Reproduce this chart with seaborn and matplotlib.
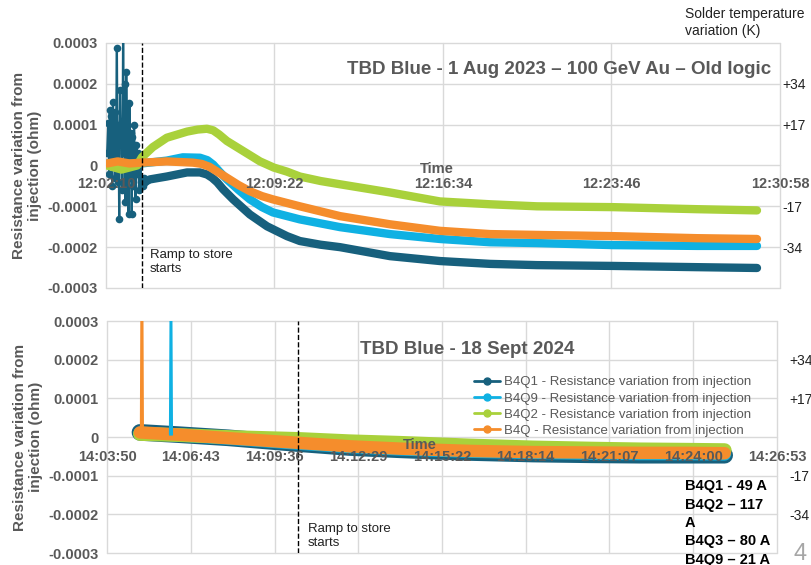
import numpy as np
import pandas as pd
import matplotlib
matplotlib.use("Agg")
import matplotlib.pyplot as plt
from matplotlib.lines import Line2D
import seaborn as sns

# ---- data (time in s from first tick, resistance in 1e-4 ohm) ----
top_xlabels = ["12:02:10", "12:09:22", "12:16:34", "12:23:46", "12:30:58"]
bot_xlabels = ["14:03:50", "14:06:43", "14:09:36", "14:12:29", "14:15:22",
               "14:18:14", "14:21:07", "14:24:00", "14:26:53"]
y_ticks = [-3, -2, -1, 0, 1, 2, 3]
temp_ticks = [34, 17, -17, -34]          # K, 17 K per 1e-4 ohm

names = ["B4Q1", "B4Q9", "B4Q2", "B4Q"]
colors = ["#17607d", "#0fb1e3", "#a9d13b", "#f58d2c"]

# 1 Aug 2023
top_q1_noise_t = [3, 6, 8, 10, 12, 14, 16, 18, 20, 22, 24, 26, 28, 30, 32, 34, 36, 38, 40,
                  42, 44, 46, 48, 50, 52, 54, 56, 58, 60, 62, 64, 66, 68, 70, 72, 74, 76,
                  78, 80, 82, 85, 88, 91, 94, 97, 100]
top_q1_noise_v = [0.3, 1.05, -0.2, 1.37, 0.1, 1.2, -0.5, 1.56, 0.2, 1.3, -0.3, 0.8, 2.88,
                  -0.4, 1.0, -1.32, 1.85, 0.6, 1.1, -0.6, 3.4, 0.3, 2.0, -0.9, 2.3, 0.4,
                  1.5, -1.2, 1.53, -0.3, 0.8, -1.2, 0.7, -0.5, 1.0, 0.1, -0.83, 0.5, -0.2,
                  0.3, -0.6, 0.1, -0.4, -0.5, -0.3, -0.4]
top_q1_t = [100, 113, 156, 208, 241, 259, 272, 285, 300, 326, 369, 413, 464, 497, 550,
            600, 728, 856, 985, 1105, 1300, 1515, 1669]
top_q1_v = [-0.4, -0.34, -0.27, -0.17, -0.17, -0.22, -0.3, -0.41, -0.58, -0.83, -1.2,
            -1.49, -1.73, -1.85, -1.94, -2.0, -2.22, -2.34, -2.41, -2.44, -2.46, -2.49,
            -2.51]
top_q9_t = [3, 60, 92, 156, 197, 241, 260, 275, 290, 310, 340, 369, 400, 428, 497, 600,
            728, 856, 985, 1105, 1300, 1515, 1669]
top_q9_v = [0.05, 0.05, 0.05, 0.12, 0.2, 0.19, 0.13, 0.02, -0.14, -0.34, -0.6, -0.83,
            -1.02, -1.15, -1.32, -1.51, -1.68, -1.8, -1.88, -1.9, -1.95, -1.97, -1.97]
top_q2_t = [3, 40, 80, 92, 120, 156, 208, 235, 259, 275, 290, 310, 344, 395, 430, 464,
            497, 550, 600, 728, 856, 985, 1105, 1300, 1515, 1669]
top_q2_v = [0.0, -0.1, 0.0, 0.2, 0.45, 0.68, 0.83, 0.88, 0.9, 0.86, 0.76, 0.6, 0.4, 0.1,
            -0.05, -0.15, -0.27, -0.38, -0.46, -0.66, -0.88, -0.95, -1.0, -1.02, -1.07,
            -1.1]
top_q_t = [3, 30, 60, 92, 156, 223, 245, 265, 285, 310, 340, 369, 400, 428, 497, 600,
           728, 856, 985, 1105, 1300, 1515, 1669]
top_q_v = [0.05, 0.1, 0.05, 0.07, 0.1, 0.07, 0.04, -0.03, -0.15, -0.3, -0.48, -0.63,
           -0.75, -0.83, -1.0, -1.24, -1.44, -1.6, -1.68, -1.7, -1.73, -1.78, -1.8]
top_ramp_t = 92

# 18 Sept 2024
bot_t = [68, 150, 250, 394, 500, 604, 750, 879, 1000, 1100, 1200, 1275]
bot_q1_v = [0.12, 0.06, -0.02, -0.17, -0.27, -0.33, -0.40, -0.44, -0.46, -0.47, -0.47, -0.47]
bot_q9_v = [0.10, 0.05, -0.03, -0.16, -0.25, -0.31, -0.37, -0.40, -0.42, -0.43, -0.43, -0.44]
bot_q2_v = [0.08, 0.05, 0.0, -0.05, -0.11, -0.15, -0.22, -0.27, -0.30, -0.32, -0.33, -0.34]
bot_q_v = [0.12, 0.06, -0.03, -0.15, -0.24, -0.30, -0.36, -0.39, -0.40, -0.41, -0.41, -0.42]
bot_q_spike_t = [70, 72, 74]
bot_q_spike_v = [0.1, 6.0, 0.1]
bot_q9_spike_t = [130, 132, 134]
bot_q9_spike_v = [0.06, 5.0, 0.06]
bot_ramp_t = 394

GRAY = "#595959"
S = 1e-4

sns.set_theme(style="white")
plt.rcParams["font.family"] = ["Liberation Sans", "DejaVu Sans"]


def secs(labels):
    td = pd.to_timedelta(labels)
    return (td - td[0]).total_seconds().to_numpy()


def line(ax, t, v, color, lw, **kw):
    sns.lineplot(x=np.asarray(t, float), y=np.asarray(v) * S, ax=ax, color=color,
                 linewidth=lw, estimator=None, sort=False, legend=False,
                 solid_capstyle="round", solid_joinstyle="round", **kw)


def style(ax, xlabels, time_xy, tick_pad, right_pad):
    xt = secs(xlabels)
    ax.set_xlim(xt[0], xt[-1])
    ax.set_ylim(-3 * S, 3 * S)
    ax.set_xticks(xt)
    ax.set_xticklabels(xlabels)
    ax.set_yticks(np.array(y_ticks) * S)
    ax.set_yticklabels(["0" if v == 0 else f"{v * S:.4f}" for v in y_ticks])
    # grid drawn by hand so the tick labels can stay above the data
    ax.grid(False)
    ax.set_axisbelow(False)
    for x in xt:
        ax.axvline(x, color="#d9d9d9", lw=1, zorder=0, clip_on=False)
    for y in y_ticks:
        ax.axhline(y * S, color="#d9d9d9", lw=1, zorder=0, clip_on=False)
    for sp in ax.spines.values():
        sp.set_visible(False)
    ax.spines["bottom"].set_position(("data", 0))
    ax.tick_params(axis="both", length=0, labelsize=10.5, labelcolor=GRAY)
    ax.tick_params(axis="x", pad=tick_pad)
    ax.tick_params(axis="y", pad=6)
    for lab in ax.get_xticklabels() + ax.get_yticklabels():
        lab.set_fontweight("bold")
    ax.set_xlabel("Time", fontsize=10.5, fontweight="bold", color=GRAY)
    ax.xaxis.set_label_coords(*time_xy)
    ax.set_ylabel("Resistance variation from\ninjection (ohm)", fontsize=11,
                  fontweight="bold", color=GRAY, labelpad=4)
    tw = ax.twinx()
    tw.set_ylim(ax.get_ylim())
    tw.set_yticks(np.array(temp_ticks) / 17 * S)
    tw.set_yticklabels([f"{k:+d}" for k in temp_ticks])
    tw.tick_params(axis="y", length=0, labelsize=10, labelcolor="#222222", pad=right_pad)
    for sp in tw.spines.values():
        sp.set_visible(False)
    tw.grid(False)


fig = plt.figure(figsize=(8.12, 5.65), dpi=100)
ax1 = fig.add_axes([0.1305, 0.4903, 0.8301, 0.4336])
ax2 = fig.add_axes([0.1318, 0.0212, 0.8251, 0.4106])

# top panel
line(ax1, top_q1_noise_t, top_q1_noise_v, colors[0], 1.6, marker="o", markersize=5.5,
     markeredgewidth=0)
line(ax1, top_q1_t, top_q1_v, colors[0], 6)
line(ax1, top_q9_t, top_q9_v, colors[1], 6)
line(ax1, top_q2_t, top_q2_v, colors[2], 6)
line(ax1, top_q_t, top_q_v, colors[3], 6)
ax1.axvline(top_ramp_t, color="black", ls="--", lw=1)
style(ax1, top_xlabels, (0.491, 0.514), 8, 2)
ax1.text(0.065, 0.16, "Ramp to store\nstarts", transform=ax1.transAxes, fontsize=9.5,
         color="#222222", va="top", ha="left")
ax1.text(0.987, 0.89, "TBD Blue - 1 Aug 2023 \u2013 100 GeV Au \u2013 Old logic",
         transform=ax1.transAxes, fontsize=13.5, fontweight="bold", color=GRAY,
         ha="right", va="center")

# bottom panel
bot_vals = [bot_q1_v, bot_q9_v, bot_q2_v, bot_q_v]
bot_lw = [12, 9.5, 10, 9]
for v, c, lw in zip(bot_vals, colors, bot_lw):
    line(ax2, bot_t, v, c, lw)
line(ax2, bot_q9_spike_t, bot_q9_spike_v, colors[1], 1.6)
line(ax2, bot_q_spike_t, bot_q_spike_v, colors[3], 1.6)
ax2.axvline(bot_ramp_t, color="black", ls="--", lw=1)
style(ax2, bot_xlabels, (0.467, 0.496), 9, 9)
ax2.text(0.30, 0.13, "Ramp to store\nstarts", transform=ax2.transAxes, fontsize=9.5,
         color="#222222", va="top", ha="left")
ax2.text(0.378, 0.879, "TBD Blue - 18 Sept 2024", transform=ax2.transAxes, fontsize=13.5,
         fontweight="bold", color=GRAY, ha="left", va="center")
handles = [Line2D([0], [0], color=c, lw=2, marker="o", ms=5) for c in colors]
labels = [f"{n} - Resistance variation from injection" for n in names]
leg = ax2.legend(handles, labels, loc="upper left", bbox_to_anchor=(0.54, 0.785),
                 frameon=False, fontsize=9.5, handlelength=2.0, handletextpad=0.25,
                 labelspacing=0.3, borderaxespad=0)
leg.set_zorder(5)
for t in leg.get_texts():
    t.set_color(GRAY)

# figure notes
fig.text(0.8436, 0.988, "Solder temperature\nvariation (K)", fontsize=10, color="#222222",
         va="top", ha="left", linespacing=1.3)
fig.text(0.8436, 0.152, "B4Q1 - 49 A\nB4Q2 \u2013 117\nA\nB4Q3 \u2013 80 A\nB4Q9 \u2013 21 A",
         fontsize=10.5, fontweight="bold", color="black", va="top", ha="left",
         linespacing=1.4)
fig.text(0.985, 0.0, "4", fontsize=17, color="#a6a6a6", ha="center", va="bottom")

fig.savefig("out.png", dpi=100)
